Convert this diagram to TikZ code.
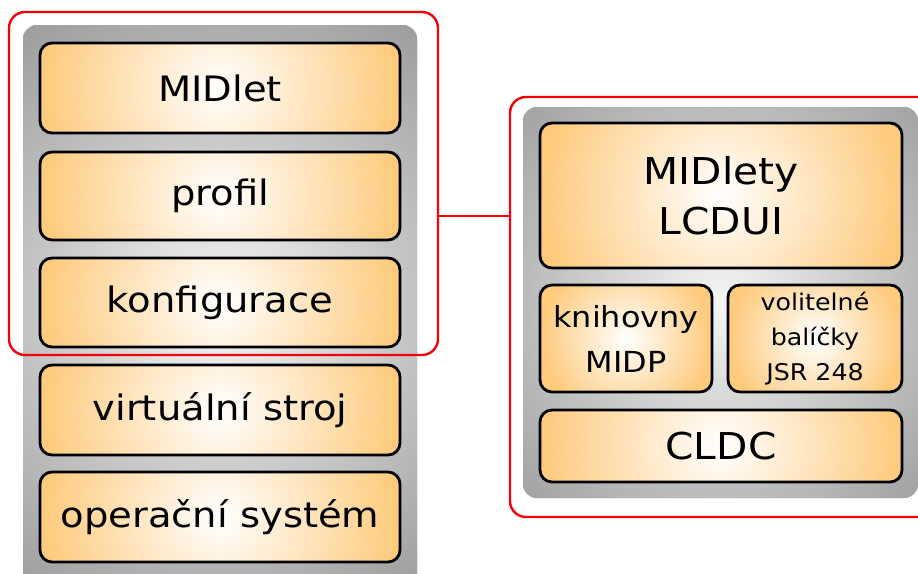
\documentclass[tikz,border=0pt]{standalone}
\usepackage{fontspec}
\setmainfont{DejaVu Sans}[FakeStretch=1.1]
\definecolor{layerorange}{RGB}{254,202,124}
\definecolor{panelgray}{RGB}{158,158,158}
\definecolor{panelwhite}{RGB}{245,245,245}
\definecolor{framered}{RGB}{245,0,10}
\begin{document}
\begin{tikzpicture}[x=1pt, y=-1pt,
  layer/.style={draw=black, line width=2.8pt, rounded corners=12pt, fill=layerorange, align=center, inner sep=0pt,
    path picture={\shade[inner color=white, outer color=layerorange] (path picture bounding box.center) circle (#1);}},
  panel/.style={rounded corners=14pt, fill=panelgray, inner sep=0pt,
    path picture={\shade[inner color=panelwhite, outer color=panelgray] (path picture bounding box.center) circle (#1);}},
  frame/.style={draw=framered, line width=2.4pt, rounded corners=16pt, inner sep=0pt},
  link/.style={draw=framered, line width=2.4pt}]
\useasboundingbox (0,0) rectangle (918,573);
\node[panel=340pt, minimum width=394pt, minimum height=570pt] (lpanel) at (220,310){};
\node[layer=180pt, minimum width=360pt, minimum height=90pt, font=\fontsize{35}{40}\selectfont] (midlet) at (220,88){MIDlet};
\node[layer=180pt, minimum width=360pt, minimum height=88pt, font=\fontsize{35}{40}\selectfont] (profil) at (220,196){profil};
\node[layer=180pt, minimum width=360pt, minimum height=89pt, font=\fontsize{35}{40}\selectfont] (konf) at (220,302.5){konfigurace};
\node[layer=180pt, minimum width=360pt, minimum height=90pt, font=\fontsize{35}{40}\selectfont] (vm) at (220,410){virtuální stroj};
\node[layer=180pt, minimum width=360pt, minimum height=90pt, font=\fontsize{35}{40}\selectfont] (os) at (220,517){operační systém};
\node[frame, minimum width=429pt, minimum height=343pt] (lframe) at (223.5,183.5){};
\node[panel=290pt, minimum width=395pt, minimum height=391pt] (rpanel) at (720.5,302.5){};
\node[layer=181pt, minimum width=362pt, minimum height=145pt, font=\fontsize{37}{50}\selectfont] (midlety) at (721,195.5){MIDlety\\LCDUI};
\node[layer=86pt, minimum width=172pt, minimum height=107pt, font=\fontsize{29}{45}\selectfont] (midp) at (626,338.5){knihovny\\MIDP};
\node[layer=87pt, minimum width=174pt, minimum height=107pt, font=\fontsize{23}{35}\selectfont] (jsr) at (815,338.5){volitelné\\balíčky\\JSR 248};
\node[layer=181pt, minimum width=362pt, minimum height=72pt, font=\fontsize{37}{40}\selectfont] (cldc) at (721,446){CLDC};
\node[frame, minimum width=440pt, minimum height=420pt] (rframe) at (730,307){};
\coordinate (tap) at (438,216);
\draw[link] (lframe.east |- tap) -- (rframe.west |- tap);
\end{tikzpicture}
\end{document}
